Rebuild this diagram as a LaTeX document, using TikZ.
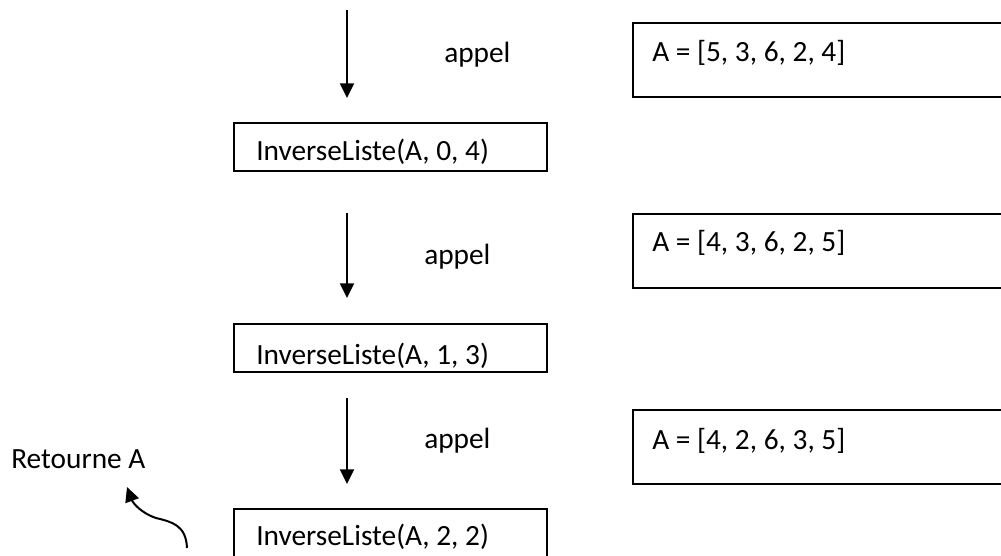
\documentclass[tikz,border=0pt]{standalone}
\usepackage{fontspec}
\setmainfont{Carlito}
\usetikzlibrary{arrows.meta}
\tikzset{
  lbl/.style={font=\fontsize{22pt}{26pt}\selectfont, inner sep=0pt},
  callbox/.style={draw, line width=1.5pt, inner sep=0pt,
    minimum width=234.75pt, minimum height=36pt},
  statebox/.style={draw, line width=1.5pt, inner sep=0pt,
    minimum width=282.75pt, minimum height=55.5pt},
  arr/.style={line width=1.5pt, -{Triangle[width=10.5pt,length=11pt]}},
}
\begin{document}
\begin{tikzpicture}[x=0.75pt,y=0.75pt]
      \useasboundingbox (0,0) rectangle (1001,-556);
      \clip (0,0) rectangle (1001,-556);
      % calls
      \node[callbox] (c0) at (390.5,-147) {};
      \node[callbox] (c1) at (390.5,-348) {};
      \node[callbox] (c2) at (390.5,-533) {};
      % states of A
      \node[statebox] (s0) at (821.5,-60) {};
      \node[statebox] (s1) at (821.5,-251) {};
      \node[statebox] (s2) at (821.5,-447) {};
      \begin{scope}
        \clip (c0.south west) rectangle (c0.north east);
        \node[lbl, anchor=base west] (t0) at ([shift={(23,-39)}]c0.north west) {InverseListe(A, 0, 4)};
      \end{scope}
      \begin{scope}
        \clip (c1.south west) rectangle (c1.north east);
        \node[lbl, anchor=base west] (t1) at ([shift={(23,-42)}]c1.north west) {InverseListe(A, 1, 3)};
      \end{scope}
      \node[lbl, anchor=base west] (t2) at ([shift={(23,-37)}]c2.north west) {InverseListe(A, 2, 2)};
      \node[lbl, anchor=base west] (u0) at ([shift={(20,-40)}]s0.north west) {A = [5, 3, 6, 2, 4]};
      \node[lbl, anchor=base west] (u1) at ([shift={(20,-39)}]s1.north west) {A = [4, 3, 6, 2, 5]};
      \node[lbl, anchor=base west] (u2) at ([shift={(20,-41)}]s2.north west) {A = [4, 2, 6, 3, 5]};
      % appels
      \node[lbl, anchor=base west] (p0) at (444,-63) {appel};
      \node[lbl, anchor=base west] (p1) at (424,-265) {appel};
      \node[lbl, anchor=base west] (p2) at (424,-448) {appel};
      \node[lbl, anchor=base west] (ret) at (11,-468) {Retourne A};
      \coordinate (a0) at (347,-10);
      \coordinate (b0) at (347,-98);
      \coordinate (a1) at (347,-213);
      \coordinate (b1) at (347,-298);
      \coordinate (a2) at (347,-398);
      \coordinate (b2) at (347,-484);
      \coordinate (r0) at (187,-548);
      \coordinate (r1) at (127,-487);
      \begin{scope}[arr]
        \draw (a0) -- (b0);
        \draw (a1) -- (b1);
        \draw (a2) -- (b2);
        \draw (r0) .. controls (186,-525) and (172,-522) .. (156,-518)
                   .. controls (141,-513) and (133,-503) .. (r1);
      \end{scope}
\end{tikzpicture}
\end{document}
